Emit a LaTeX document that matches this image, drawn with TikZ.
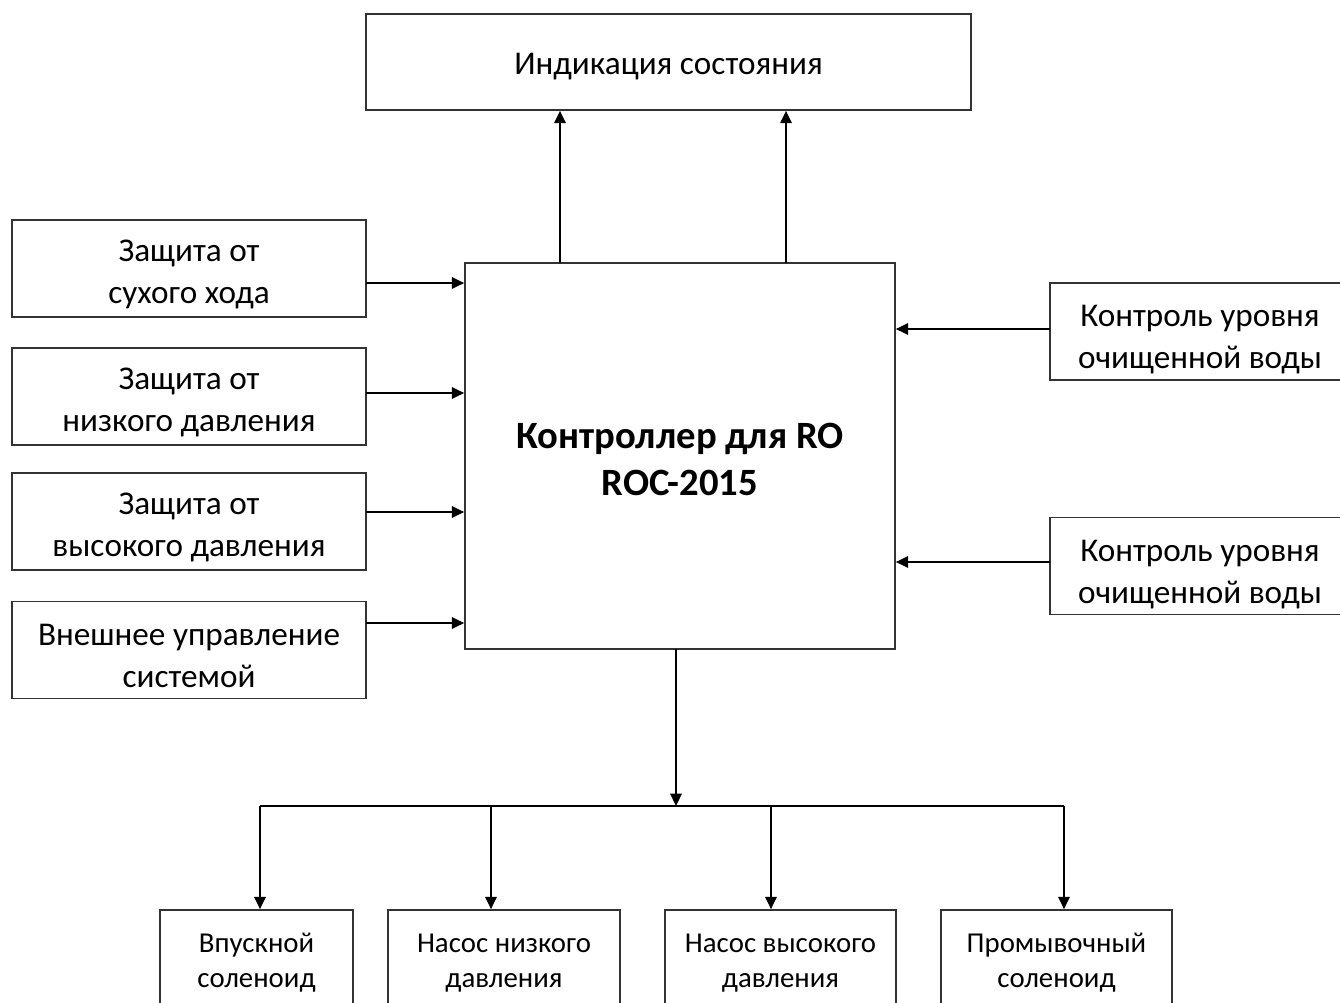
\documentclass[tikz,border=0pt]{standalone}
\usepackage{fontspec}
\setmainfont{Carlito}
\usetikzlibrary{arrows.meta}
\newcommand\liftL{\rule{0pt}{19.3pt}}
\newcommand\liftR{\rule{0pt}{21.6pt}}
\newcommand\liftM{\rule{0pt}{18.2pt}}
\newcommand\liftS{\rule{0pt}{14pt}}
\tikzstyle{frame}=[draw=black!80, line width=1pt, align=center, inner sep=0pt]
\tikzstyle{block}=[frame, font=\fontsize{18.9}{23.8}\selectfont]
\tikzstyle{mainblock}=[frame, font=\fontsize{22}{27}\selectfont\bfseries]
\tikzstyle{outblock}=[frame, minimum height=2cm, font=\fontsize{16.4}{19.8}\selectfont]
\tikzstyle{arr}=[line width=1pt, -{Triangle[length=7pt,width=6.5pt]}]

\begin{document}
\begin{tikzpicture}[x=0.02cm, y=-0.02cm]
      \clip (0,0) rectangle (1340,1002);
      \fill[white] (0,0) rectangle (1340,1002);

      \node[block, minimum width=12.1cm, minimum height=1.92cm] (ind) at (668.5,62) {\rule{0pt}{17pt}Индикация состояния};

      \node[mainblock, minimum width=8.6cm, minimum height=7.72cm] (ctrl) at (680,456) {\liftM Контроллер для RO\\ROC-2015};

      \node[block, minimum width=7.08cm, minimum height=1.94cm] (l1) at (189,268.5) {\liftL Защита от\\сухого хода};
      \node[block, minimum width=7.08cm, minimum height=1.94cm] (l2) at (189,396.5) {\liftL Защита от\\низкого давления};
      \node[block, minimum width=7.08cm, minimum height=1.94cm] (l3) at (189,521.5) {\liftL Защита от\\высокого давления};
      \node[block, minimum width=7.08cm, minimum height=1.94cm] (l4) at (189,650) {\liftL Внешнее управление\\системой};

      \node[block, minimum width=6cm, minimum height=1.94cm] (r1) at (1200,331.5) {\liftR Контроль уровня\\очищенной воды};
      \node[block, minimum width=6cm, minimum height=1.94cm] (r2) at (1200,566) {\liftR Контроль уровня\\очищенной воды};

      \node[outblock, minimum width=3.86cm] (b1) at (256.5,960) {\liftS Впускной\\соленоид};
      \node[outblock, minimum width=4.64cm] (b2) at (504,960) {\liftS Насос низкого\\давления};
      \node[outblock, minimum width=4.62cm] (b3) at (780.5,960) {\liftS Насос высокого\\давления};
      \node[outblock, minimum width=4.62cm] (b4) at (1056.5,960) {\liftS Промывочный\\соленоид};

      \coordinate (u1) at (560,263);
      \coordinate (u2) at (786,263);
      \coordinate (a1) at (366,283);
      \coordinate (a2) at (366,393);
      \coordinate (a3) at (366,512);
      \coordinate (a4) at (366,623);
      \coordinate (c1) at (1050,329);
      \coordinate (c2) at (1050,562);
      \coordinate (down) at (676,649);
      \coordinate (bus) at (676,806);
      \coordinate (d1) at (260,806);
      \coordinate (d2) at (491,806);
      \coordinate (d3) at (771,806);
      \coordinate (d4) at (1064,806);

      \draw[arr] (u1) -- (u1 |- ind.south);
      \draw[arr] (u2) -- (u2 |- ind.south);

      \draw[arr] (a1) -- (a1 -| ctrl.west);
      \draw[arr] (a2) -- (a2 -| ctrl.west);
      \draw[arr] (a3) -- (a3 -| ctrl.west);
      \draw[arr] (a4) -- (a4 -| ctrl.west);

      \draw[arr] (c1) -- (c1 -| ctrl.east);
      \draw[arr] (c2) -- (c2 -| ctrl.east);

      \draw[arr] (down) -- (bus);
      \draw[line width=1pt] (d1) -- (d4);

      \draw[arr] (d1) -- (d1 |- b1.north);
      \draw[arr] (d2) -- (d2 |- b2.north);
      \draw[arr] (d3) -- (d3 |- b3.north);
      \draw[arr] (d4) -- (d4 |- b4.north);
    \end{tikzpicture}
\end{document}
